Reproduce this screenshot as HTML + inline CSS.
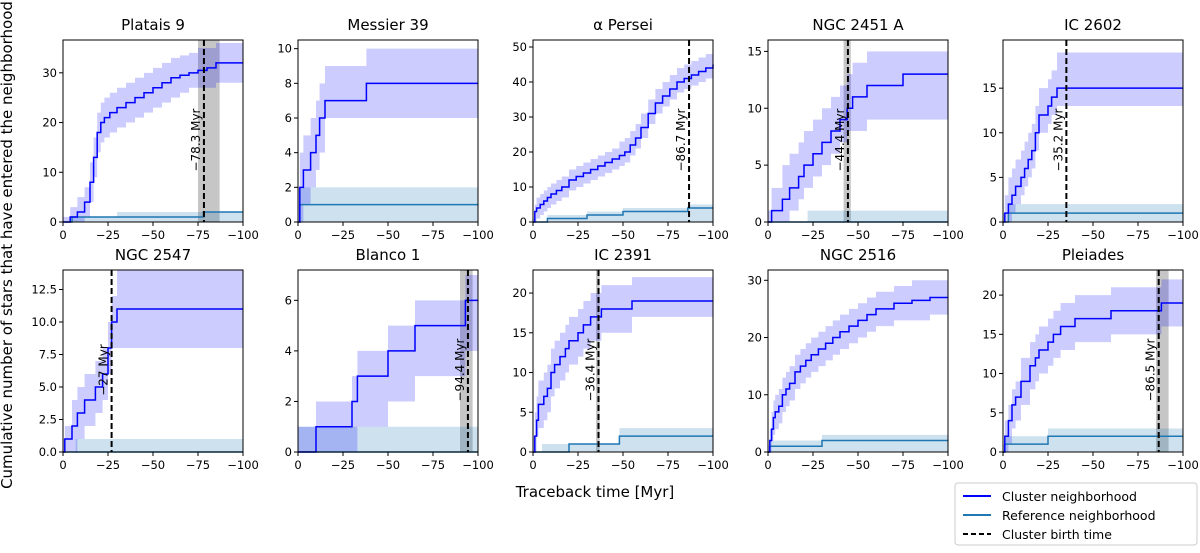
<!DOCTYPE html>
<html><head><meta charset="utf-8"><style>
body{margin:0;background:#fff;}
svg{font-family:"DejaVu Sans","Liberation Sans",sans-serif;}
</style></head><body>
<svg id="fig" width="1200" height="548" viewBox="0 0 1200 548" xmlns="http://www.w3.org/2000/svg">
<text x="12" y="245" transform="rotate(-90 12 245)" text-anchor="middle" font-size="15">Cumulative number of stars that have entered the neighborhood</text>
<text x="595" y="497" text-anchor="middle" font-size="15">Traceback time [Myr]</text>
<g>
<rect x="955" y="483" width="242" height="62" fill="#fff" stroke="#ccc" rx="3"/>
<line x1="963" y1="496" x2="991" y2="496" stroke="#0000ff" stroke-width="2"/>
<text x="1002" y="501" font-size="12.5">Cluster neighborhood</text>
<line x1="963" y1="515" x2="991" y2="515" stroke="#1f77b4" stroke-width="2"/>
<text x="1002" y="520" font-size="12.5">Reference neighborhood</text>
<line x1="963" y1="534" x2="991" y2="534" stroke="#000" stroke-width="2" stroke-dasharray="5,3"/>
<text x="1002" y="539" font-size="12.5">Cluster birth time</text>
</g>
</svg>
<script>
const titles=["Platais 9","Messier 39","α Persei","NGC 2451 A","IC 2602","NGC 2547","Blanco 1","IC 2391","NGC 2516","Pleiades"];
const yMaxes=[36.6,10.5,52,16,20.4,14,7.2,22.9,31.8,23.2];
const yTicks=[[0,10,20,30],[0,2,4,6,8,10],[0,10,20,30,40,50],[0,5,10,15],[0,5,10,15],[0,2.5,5,7.5,10,12.5],[0,2,4,6],[0,5,10,15,20],[0,10,20,30],[0,5,10,15,20]];
const xTicks=[0,25,50,75,100];
const clusterT=[
[0,4,8,12,15,17,19,21,23,26,30,35,40,45,50,55,60,65,70,75,80,85,100],
[0,1,3,7,10,12,15,38,100],
[0,1,2,4,6,8,10,13,16,20,24,28,32,36,40,44,48,51,54,57,60,64,68,72,76,80,84,88,92,96,100],
[0,2,8,12,17,20,25,30,35,40,44,47,55,75,100],
[0,1,3,5,7,10,12,14,16,18,20,25,27,30,100],
[0,1,5,8,12,18,22,25,27,30,100],
[0,10,30,33,50,65,93,100],
[0,1,2,3,6,8,10,12,15,18,20,25,28,32,38,55,100],
[0,1,2,3,4,6,8,10,12,15,18,21,24,28,32,36,40,45,50,55,60,70,80,90,100],
[0,1,3,5,7,10,15,18,20,25,28,32,40,60,88,100]];
const clusterY=[
[0,1,2,4,8,13,18,20,21,22,23,24,25,26,27,28,29,29.5,30,30.5,31,32,32],
[0,2,3,4,5,6,7,8,8],
[0,3,4,5,6,7,8,9,10,12,13,14,15,16,17,18,19,20,22,24,27,31,34,36,38,40,41,42,43,44,45],
[0,1,2,3,4,5,6,7,8,9,10,11,12,13,13],
[0,1,2,3,4,5,6,7,8,10,12,13,14,15,15],
[0,1,2,3,4,5,6,8,10,11,11],
[0,1,2,3,4,5,6,6],
[0,2,4,6,7,8,10,11,12,13,14,15,16,17,18,19,19],
[0,2,4,6,7,8,10,11,12,14,15,16,17,18,19,20,21,22,23,24,25,26,26.5,27,27],
[0,2,4,6,7,9,11,12,13,14,15,16,17,18,19,19]];
const clusterLo=[
[0,0,0,1,4,9,14,16,17,18,19,20,21,22,23,24,25,26,27,27,27,28,28],
[0,0,1,2,3,4,6,6,6],
[0,0,1,2,3,4,5,6,7,9,10,11,12,13,14,15,16,17,19,21,24,28,31,33,35,37,38,39,40,41,42],
[0,0,0,1,2,3,4,5,6,7,8,8,9,9,9],
[0,0,0,1,2,3,4,5,6,8,10,11,12,13,13],
[0,0,0,1,2,3,4,6,8,8,8],
[0,0,0,1,2,3,4,4],
[0,0,2,3,4,5,7,8,9,10,11,12,13,14,15,17,17],
[0,0,2,3,4,5,7,8,9,11,12,13,14,15,16,17,18,19,20,21,22,23,23,24,24],
[0,0,1,3,4,6,8,9,10,11,12,13,14,15,16,16]];
const clusterHi=[
[1,3,5,7,12,17,22,24,25,26,27,28,29,30,31,32,33,33.5,34,35,35,36,36],
[2,4,5,6,7,8,9,10,10],
[1,5,7,8,9,10,11,12,13,15,16,17,18,19,20,21,23,24,26,28,31,35,38,40,42,44,45,46,47,48,49],
[1,3,5,6,7,8,9,10,11,12,13,14,15,15,15],
[1,3,5,6,7,8,9,10,11,13,15,16,17,19,19],
[1,2,4,5,6,7,8,10,12,14,14],
[1,2,3,4,5,6,7,7],
[2,5,7,9,10,11,13,14,15,16,17,18,19,20,21,22,22],
[1,4,7,9,10,11,13,14,15,17,18,19,20,21,22,23,24,25,26,27,28,29,30,30,30],
[1,4,6,8,9,12,14,15,16,17,18,19,20,21,22,22]];
const refT=[[0,5,78,100],[0,1,100],[0,8,30,50,86,100],[0,100],[0,3,100],[0,100],[0,100],[0,20,48,100],[0,1,30,100],[0,1,25,100]];
const refY=[[0,1,2,2],[0,1,1],[0,1,2,3,4,4],[0,0],[0,1,1],[0,0],[0,0],[0,1,2,2],[0,1,2,2],[0,1,2,2]];
const refHiT=[[0,5,30,100],[0,1,100],[0,8,30,50,86,100],[0,22,100],[0,3,100],[0,7,100],[0,100],[0,5,48,100],[0,1,30,100],[0,1,25,100]];
const refHi=[[0,1,2,2],[0,2,2],[0,2,3,4,5,5],[0,1,1],[0,2,2],[0,1,1],[1,1],[0,1,3,3],[0,2,3,3],[0,2,3,3]];
const birth=[78.3,null,86.7,44.4,35.2,27,94.4,36.4,null,86.5];
const birthLo=[75,null,null,42,null,null,90,35,null,85];
const birthHi=[87,null,null,46,null,null,97,37,null,92];
const birthLbl=["−78.3 Myr",null,"−86.7 Myr","−44.4 Myr","−35.2 Myr","−27 Myr","−94.4 Myr","−36.4 Myr",null,"−86.5 Myr"];

const NS="http://www.w3.org/2000/svg";
const svg=document.getElementById('fig');
const colX=[63,298,533,768,1003],rowY=[40,270],W=180,H=182;
function mk(t,a,p){const e=document.createElementNS(NS,t);for(const k in a)e.setAttribute(k,a[k]);(p||svg).appendChild(e);return e;}
function fmt(v,ticks){const s=ticks.some(t=>t%1)?v.toFixed(1):String(v);return s;}
for(let i=0;i<10;i++){
  const x0=colX[i%5],y0=rowY[Math.floor(i/5)],ym=yMaxes[i];
  const sx=t=>x0+t/100*W, sy=v=>y0+H-Math.min(v,ym)/ym*H;
  const g=mk('g',{});
  
  
  const step=(T,Y)=>{let d='M'+sx(T[0])+','+sy(Y[0]);for(let k=1;k<T.length;k++){d+='H'+sx(T[k])+'V'+sy(Y[k]);}return d;};
  const band=(T,L,Hh)=>{let d='M'+sx(T[0])+','+sy(Hh[0]);for(let k=1;k<T.length;k++)d+='H'+sx(T[k])+'V'+sy(Hh[k]);d+='H'+sx(100)+'V'+sy(L[L.length-1]);for(let k=T.length-1;k>0;k--)d+='H'+sx(T[k])+'V'+sy(L[k-1]);d+='H'+sx(T[0])+'Z';return d;};
  if(birthLo[i]!==null){const r=mk('rect',{x:sx(birthLo[i]),y:y0,width:sx(birthHi[i])-sx(birthLo[i]),height:H,fill:'rgba(128,128,128,0.45)'},g);
    }
  const rb=mk('path',{d:band(refHiT[i],refHi[i].map(()=>0),refHi[i]),fill:'rgba(31,119,180,0.22)'},g);
  
  const cb=mk('path',{d:band(clusterT[i],clusterLo[i],clusterHi[i]),fill:'rgba(0,0,255,0.2)'},g);
  
  const rl=mk('path',{d:step(refT[i],refY[i]),fill:'none',stroke:'#1f77b4','stroke-width':1.5},g);
  
  const cl=mk('path',{d:step(clusterT[i],clusterY[i]),fill:'none',stroke:'#0000ff','stroke-width':1.5},g);
  
  if(birth[i]!==null){const bx=sx(birth[i]);
    const bl=mk('line',{x1:bx,y1:y0,x2:bx,y2:y0+H,stroke:'#000','stroke-width':2,'stroke-dasharray':'6,3'},g);
    
    const ty=y0+100;
    const bt=mk('text',{x:bx-4,y:ty,transform:`rotate(-90 ${bx-4} ${ty})`,'text-anchor':'middle','font-size':12},g);
    bt.textContent=birthLbl[i];}
  const fr=mk('rect',{x:x0,y:y0,width:W,height:H,fill:'none',stroke:'#000','stroke-width':1},g);
  
  for(const t of xTicks){const x=sx(t);mk('line',{x1:x,y1:y0+H,x2:x,y2:y0+H+4,stroke:'#000'},g);
    const tx=mk('text',{x:x,y:y0+H+17,'text-anchor':'middle','font-size':11.5},g);tx.textContent=t===0?'0':'−'+t;
    }
  for(const v of yTicks[i]){const y=sy(v);mk('line',{x1:x0-4,y1:y,x2:x0,y2:y,stroke:'#000'},g);
    const ty=mk('text',{x:x0-6,y:y+4,'text-anchor':'end','font-size':11.5},g);ty.textContent=fmt(v,yTicks[i]);
    }
  const tt=mk('text',{x:x0+W/2,y:y0-10,'text-anchor':'middle','font-size':15},g);tt.textContent=titles[i];
  
}
</script>
</body></html>
